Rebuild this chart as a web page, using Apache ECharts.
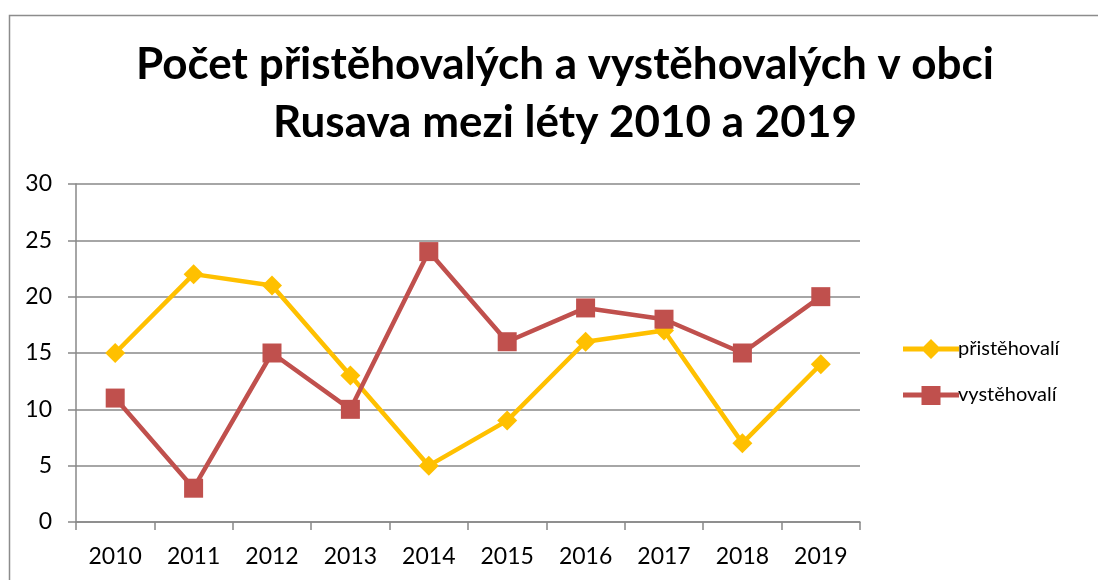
<!DOCTYPE html>
<html><head><meta charset="utf-8">
<script src="https://cdn.jsdelivr.net/npm/echarts@6/dist/echarts.min.js"></script>
<style>html,body{margin:0;padding:0;background:#fff}#c{width:1098px;height:580px}</style>
</head><body><div id="c"></div>
<script>
const titleLines = ['Počet přistěhovalých a vystěhovalých v obci', 'Rusava mezi léty 2010 a 2019'];
const years = ['2010','2011','2012','2013','2014','2015','2016','2017','2018','2019'];
const prist = [15, 22, 21, 13, 5, 9, 16, 17, 7, 14];
const vyst = [11, 3, 15, 10, 24, 16, 19, 18, 15, 20];
const seriesNames = ['přistěhovalí', 'vystěhovalí'];
const yTicks = {min: 0, max: 30, interval: 5};

const iconDiamond = 'path://M0,7.5 L56,7.5 L56,12.5 L0,12.5 Z M28,0 L38,10 L28,20 L18,10 Z';
const iconSquare = 'path://M0,7.5 L56,7.5 L56,12.5 L0,12.5 Z M18.5,1 L37.5,1 L37.5,20 L18.5,20 Z M0,0 L0.01,0 L0.01,0.01 Z';

const chart = echarts.init(document.getElementById('c'), null, {renderer: 'canvas'});
const font = 'Lato, "Open Sans", sans-serif';
chart.setOption({
  animation: false,
  backgroundColor: '#fff',
  graphic: [{
    type: 'rect', left: 7, top: 13, shape: {width: 1200, height: 700},
    style: {fill: 'none', stroke: '#8c8c8c', lineWidth: 1.5}
  }],
  title: {
    text: titleLines.join('\n'), left: 560, top: 31, textAlign: 'center',
    textStyle: {fontFamily: font, fontWeight: 'bold', fontSize: 44, lineHeight: 58, color: '#000'}
  },
  grid: {left: 76, right: 238, top: 184, bottom: 58, containLabel: false},
  legend: {
    orient: 'vertical', left: 898, top: 334, itemWidth: 56, itemHeight: 20, itemGap: 26,
    data: [{name: seriesNames[0], icon: iconDiamond}, {name: seriesNames[1], icon: iconSquare}],
    textStyle: {fontFamily: font, fontSize: 20, color: '#000', padding: [0,0,0,-6]}
  },
  xAxis: {
    type: 'category', data: years, boundaryGap: true,
    axisLine: {lineStyle: {color: '#888', width: 1.5}},
    axisTick: {show: true, length: 8, lineStyle: {color: '#888', width: 1.5}},
    axisLabel: {fontFamily: font, fontSize: 23, color: '#000', margin: 23}
  },
  yAxis: {
    type: 'value', min: yTicks.min, max: yTicks.max, interval: yTicks.interval,
    axisLine: {show: true, lineStyle: {color: '#888', width: 1.5}},
    axisTick: {show: true, length: 8, lineStyle: {color: '#888', width: 1.5}},
    splitLine: {lineStyle: {color: '#888', width: 1.5}},
    axisLabel: {fontFamily: font, fontSize: 23, color: '#000', margin: 24}
  },
  series: [
    {name: seriesNames[0], type: 'line', data: prist, symbol: 'diamond', symbolSize: 20,
     lineStyle: {color: '#FFC000', width: 4.5}, itemStyle: {color: '#FFC000'}},
    {name: seriesNames[1], type: 'line', data: vyst, symbol: 'rect', symbolSize: 19,
     lineStyle: {color: '#C0504D', width: 4.5}, itemStyle: {color: '#C0504D'}}
  ]
});
</script></body></html>
